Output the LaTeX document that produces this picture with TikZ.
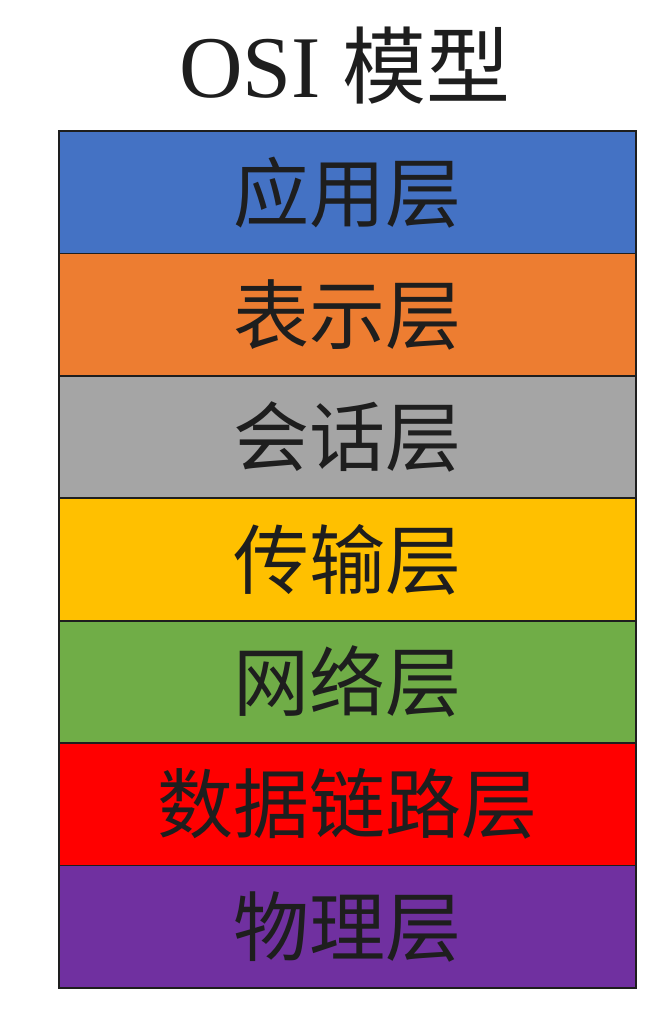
\documentclass[tikz,border=0pt]{standalone}
\usepackage{fontspec}
\setmainfont{Liberation Serif}
\newfontfamily\cjk{Noto Sans CJK SC}
\usetikzlibrary{positioning}
\definecolor{ink}{HTML}{1E1E1E}
\definecolor{appblue}{HTML}{4472C4}
\definecolor{presorange}{HTML}{ED7D31}
\definecolor{sessgray}{HTML}{A5A5A5}
\definecolor{transyellow}{HTML}{FFC000}
\definecolor{netgreen}{HTML}{70AD47}
\definecolor{linkred}{HTML}{FF0000}
\definecolor{physpurple}{HTML}{7030A0}
\tikzset{
  layer/.style={draw=ink, fill=#1, line width=1.8pt, minimum width=577pt,
                minimum height=122.4pt, inner sep=0pt, outer sep=0pt, text=ink,
                font=\cjk\fontsize{76}{84}\selectfont},
}
\begin{document}
\begin{tikzpicture}[x=1pt, y=-1pt, node distance=0pt]
  \useasboundingbox (0,0) rectangle (660,1012);
  % title
  \node[font=\fontsize{88}{96}\selectfont, text=ink] (title) at (345,66) {OSI {\cjk\fontsize{84}{92}\selectfont 模型}};
  % layers, top to bottom
  \node[layer=appblue, anchor=north] (app) at (347.5,131) {应用层};
  \node[layer=presorange, below=of app] (pres) {表示层};
  \node[layer=sessgray, below=of pres] (sess) {会话层};
  \node[layer=transyellow, below=of sess] (trans) {传输层};
  \node[layer=netgreen, below=of trans] (net) {网络层};
  \node[layer=linkred, below=of net] (link) {数据链路层};
  \node[layer=physpurple, below=of link] (phys) {物理层};
\end{tikzpicture}
\end{document}
